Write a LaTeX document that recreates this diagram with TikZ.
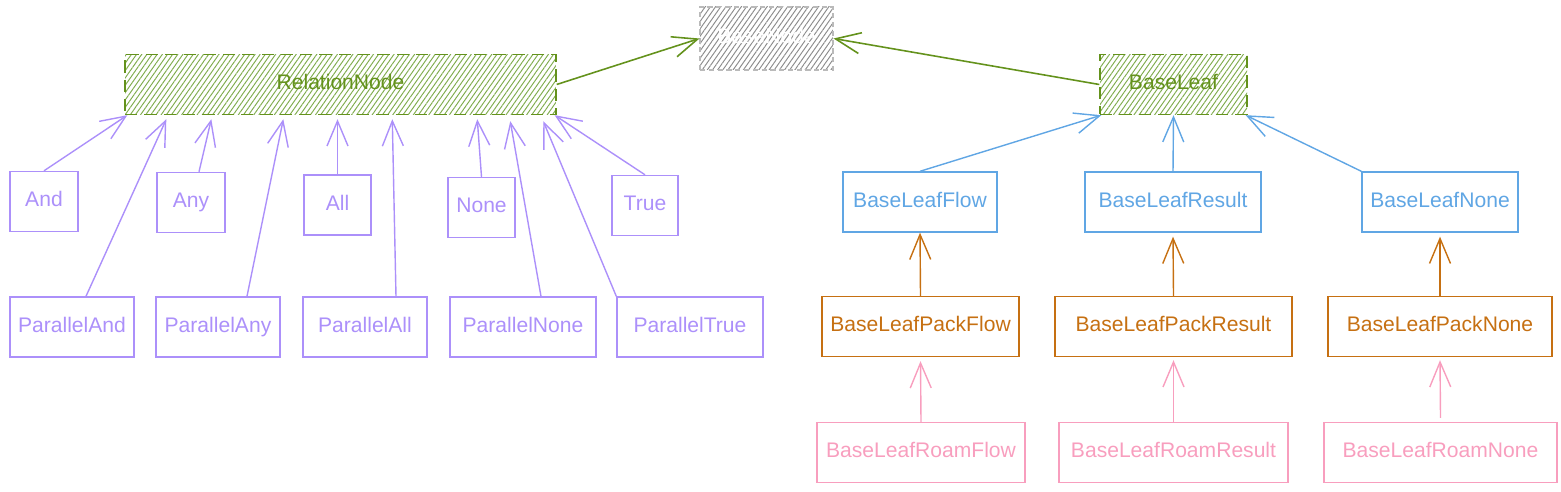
\documentclass[tikz,border=0pt]{standalone}
\usepackage{fontspec}
\setmainfont{Liberation Sans}
\usepackage{tikz}
\usetikzlibrary{arrows.meta, patterns.meta}

\definecolor{leafgreen}{RGB}{100,146,28}
\definecolor{hatchgreen}{RGB}{128,172,78}
\definecolor{nodegray}{RGB}{140,140,140}
\definecolor{relpurple}{RGB}{172,144,250}
\definecolor{leafblue}{RGB}{96,166,228}
\definecolor{packorange}{RGB}{198,112,18}
\definecolor{roampink}{RGB}{248,158,190}

\begin{document}
\begin{tikzpicture}[x=0.02cm, y=-0.02cm, font=\fontsize{12}{14}\selectfont,
  >={Straight Barb[length=0.5cm, width=0.42cm]}]
\tikzstyle{abstract}=[draw=leafgreen, line width=0.8pt, dash pattern=on 7pt off 4pt,
  pattern={Lines[angle=55, distance=2.4pt, line width=0.55pt]}, pattern color=hatchgreen,
  text=leafgreen, minimum height=1.2cm, text height=1.6ex, text depth=0.5ex]
\tikzstyle{rootblock}=[draw=nodegray!60, line width=0.8pt, dash pattern=on 3pt off 2pt,
  pattern={Lines[angle=55, distance=2.4pt, line width=0.55pt]}, pattern color=nodegray,
  text=white, minimum height=1.26cm, text height=1.6ex, text depth=0.5ex]
\tikzstyle{relblock}=[draw=relpurple, line width=0.8pt, text=relpurple, minimum height=1.2cm,
  text height=1.6ex, text depth=0.5ex]
\tikzstyle{leafblock}=[draw=leafblue, line width=0.8pt, text=leafblue, minimum height=1.2cm,
  text height=1.6ex, text depth=0.5ex]
\tikzstyle{packblock}=[draw=packorange, line width=0.8pt, text=packorange, minimum height=1.2cm,
  text height=1.6ex, text depth=0.5ex]
\tikzstyle{roamblock}=[draw=roampink, line width=0.8pt, text=roampink, minimum height=1.2cm,
  text height=1.6ex, text depth=0.5ex]

\useasboundingbox (0,0) rectangle (1561,492);

% base
\node (basenode) at (766.5,38.5) [rootblock, minimum width=2.66cm] {BaseNode};
\node (relnode) at (340.5,84.5) [abstract, minimum width=8.62cm] {RelationNode};
\node (baseleaf) at (1173.5,84.5) [abstract, minimum width=2.94cm] {BaseLeaf};

% relations
\node (and) at (44,201.5) [relblock, minimum width=1.36cm] {And};
\node (any) at (191,202.5) [relblock, minimum width=1.36cm] {Any};
\node (all) at (337.5,205) [relblock, minimum width=1.34cm] {All};
\node (none) at (481.5,207.5) [relblock, minimum width=1.34cm] {None};
\node (true) at (645,205.5) [relblock, minimum width=1.32cm] {True};

\node (parand) at (72,327) [relblock, minimum width=2.48cm] {ParallelAnd};
\node (parany) at (218,327) [relblock, minimum width=2.48cm] {ParallelAny};
\node (parall) at (365,327) [relblock, minimum width=2.48cm] {ParallelAll};
\node (parnone) at (523,327) [relblock, minimum width=2.92cm] {ParallelNone};
\node (partrue) at (690,327) [relblock, minimum width=2.92cm] {ParallelTrue};

% leaves
\node (leafflow) at (920,202) [leafblock, minimum width=3.08cm] {BaseLeafFlow};
\node (leafresult) at (1173,202) [leafblock, minimum width=3.52cm] {BaseLeafResult};
\node (leafnone) at (1440,202) [leafblock, minimum width=3.12cm] {BaseLeafNone};

\node (packflow) at (920.5,326.5) [packblock, minimum width=3.94cm] {BaseLeafPackFlow};
\node (packresult) at (1173.5,326.5) [packblock, minimum width=4.74cm] {BaseLeafPackResult};
\node (packnone) at (1440,326.5) [packblock, minimum width=4.48cm] {BaseLeafPackNone};

\node (roamflow) at (921,452.5) [roamblock, minimum width=4.16cm] {BaseLeafRoamFlow};
\node (roamresult) at (1173.5,452.5) [roamblock, minimum width=4.58cm] {BaseLeafRoamResult};
\node (roamnone) at (1440.5,452.5) [roamblock, minimum width=4.66cm] {BaseLeafRoamNone};

% connections to base
\draw[->, leafgreen, line width=0.9pt] (relnode.east) -- (basenode.west);
\draw[->, leafgreen, line width=0.9pt] (baseleaf.west) -- (basenode.east);

% relations up
\draw[->, relpurple, line width=0.8pt] (and.north) -- ([xshift=0.06cm]relnode.south west);
\draw[->, relpurple, line width=0.8pt] ([xshift=0.28cm]parand.north) -- ([xshift=0.84cm, yshift=-0.08cm]relnode.south west);
\draw[->, relpurple, line width=0.8pt] ([xshift=0.16cm]any.north) -- ([xshift=1.74cm, yshift=-0.08cm]relnode.south west);
\draw[->, relpurple, line width=0.8pt] ([xshift=0.58cm]parany.north) -- ([xshift=3.18cm, yshift=-0.08cm]relnode.south west);
\draw[->, relpurple, line width=0.8pt] (all.north) -- ([yshift=-0.08cm]all.north |- relnode.south);
\draw[->, relpurple, line width=0.8pt] ([xshift=0.62cm]parall.north) -- ([xshift=5.36cm, yshift=-0.08cm]relnode.south west);
\draw[->, relpurple, line width=0.8pt] (none.north) -- ([xshift=7.06cm, yshift=-0.08cm]relnode.south west);
\draw[->, relpurple, line width=0.8pt] ([xshift=0.36cm]parnone.north) -- ([xshift=7.72cm, yshift=-0.12cm]relnode.south west);
\draw[->, relpurple, line width=0.8pt] (partrue.north west) -- ([xshift=8.38cm, yshift=-0.12cm]relnode.south west);
\draw[->, relpurple, line width=0.8pt] (true.north) -- ([xshift=-0.04cm]relnode.south east);

% leaves up
\draw[->, leafblue, line width=0.8pt] (leafflow.north) -- ([xshift=0.04cm]baseleaf.south west);
\draw[->, leafblue, line width=0.8pt] (leafresult.north) -- (baseleaf.south);
\draw[->, leafblue, line width=0.8pt] (leafnone.north west) -- ([xshift=-0.04cm]baseleaf.south east);

\draw[->, packorange, line width=0.8pt] (packflow.north) -- (leafflow.south);
\draw[->, packorange, line width=0.8pt] (packresult.north) -- ([yshift=-0.08cm]leafresult.south);
\draw[->, packorange, line width=0.8pt] (packnone.north) -- ([yshift=-0.08cm]leafnone.south);

\draw[->, roampink, line width=0.8pt] (roamflow.north) -- ([yshift=-0.08cm]packflow.south);
\draw[->, roampink, line width=0.8pt] (roamresult.north) -- ([yshift=-0.06cm]packresult.south);
\draw[->, roampink, line width=0.8pt] ([yshift=0.08cm]roamnone.north) -- ([yshift=-0.06cm]packnone.south);

\end{tikzpicture}
\end{document}
